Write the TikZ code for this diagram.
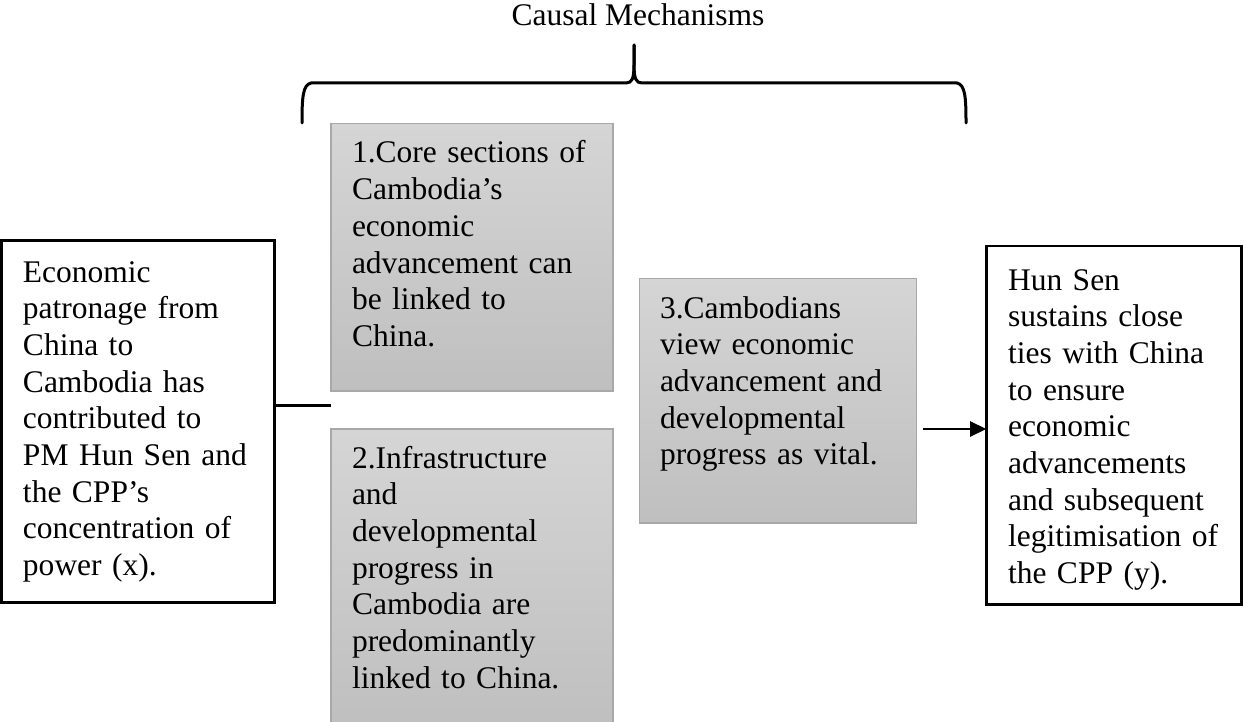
\documentclass[tikz,border=0pt]{standalone}
\usepackage{fontspec}
\setmainfont{Liberation Serif}
\usetikzlibrary{arrows.meta}
\definecolor{graytop}{RGB}{213,213,213}
\definecolor{graybot}{RGB}{191,191,191}
\definecolor{grayline}{RGB}{168,168,168}
\tikzset{
  blackbox/.style={draw=black, line width=2.8pt, fill=white, rectangle, inner sep=0pt, outer sep=0pt, anchor=north west},
  graybox/.style={draw=grayline, line width=1.2pt, rectangle, inner sep=0pt, outer sep=0pt, anchor=north west, top color=graytop, bottom color=graybot},
  txt/.style={anchor=base west, inner sep=0pt, outer sep=0pt, align=left, text width=320pt, font=\fontsize{31.5}{36.7}\selectfont},
  conn/.style={line width=2.5pt},
  bracestyle/.style={line width=3pt, line cap=round, line join=round}
}
\begin{document}
\begin{tikzpicture}[x=1pt,y=-1pt]
\useasboundingbox (0,0) rectangle (1244,722);

% title
\node[anchor=base, inner sep=0pt, font=\fontsize{31.5}{36.7}\selectfont] (title) at (638,26) {Causal Mechanisms};

% brace
\draw[bracestyle] (302,123) .. controls (302,96) and (303,85) .. (311,83) -- (626,83)
  .. controls (632,83) and (634,79) .. (634,64) -- (634,45);
\draw[bracestyle] (634,45) -- (634,64) .. controls (634,79) and (636,83) .. (642,83) -- (957,83)
  .. controls (965,85) and (966,96) .. (966,123);

% boxes
\node[blackbox, minimum width=273pt, minimum height=362pt] (L) at (1.5,240.7) {};
\node[graybox, minimum width=282pt, minimum height=267.5pt] (B1) at (331,123.5) {};
\node[graybox, minimum width=282pt, minimum height=300pt] (B2) at (331,429) {};
\node[graybox, minimum width=277.4pt, minimum height=244.3pt] (B3) at (639.3,278.7) {};
\node[blackbox, minimum width=255.6pt, minimum height=358.3pt] (R) at (986.2,246) {};

% texts
\node[txt] (Lt) at (23,282) {Economic\\patronage from\\China to\\Cambodia has\\contributed to\\PM Hun Sen and\\the CPP’s\\concentration of\\power (x).};
\node[txt] (B1t) at (352,163) {1.Core sections of\\Cambodia’s\\economic\\advancement can\\be linked to\\China.};
\node[txt] (B2t) at (352,468) {2.Infrastructure\\and\\developmental\\progress in\\Cambodia are\\predominantly\\linked to China.};
\node[txt] (B3t) at (660,318) {3.Cambodians\\view economic\\advancement and\\developmental\\progress as vital.};
\node[txt] (Rt) at (1008,290) {Hun Sen\\sustains close\\ties with China\\to ensure\\economic\\advancements\\and subsequent\\legitimisation of\\the CPP (y).};

% connectors
\coordinate (c1) at (331,405.3);
\draw[conn] (L.east |- c1) -- (c1);
\coordinate (a1) at (922.7,429);
\draw[conn, -{Triangle[length=16pt,width=15pt]}] (a1) -- (R.west |- a1);
\end{tikzpicture}
\end{document}
